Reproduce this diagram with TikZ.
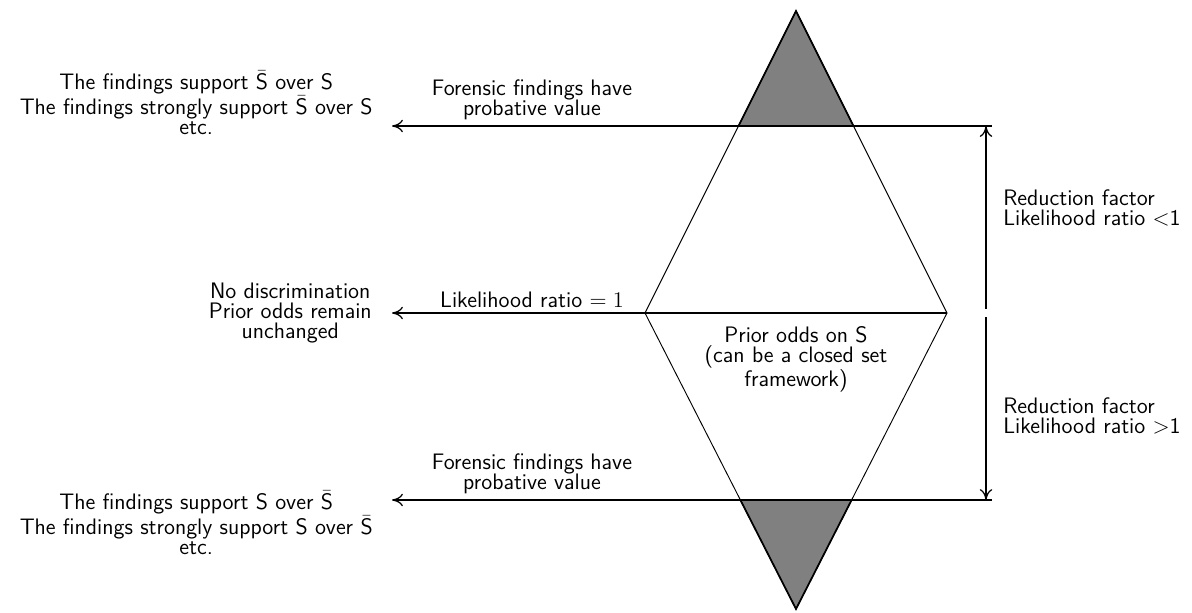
\documentclass[tikz,border=0pt]{standalone}
\usetikzlibrary{arrows.meta,calc}
\newcommand{\Sbar}{$\bar{\mathsf{S}}$}
\begin{document}
\begin{tikzpicture}[x=0.643pt,y=-0.643pt,
  txt/.style={inner sep=0pt,font={\fontsize{14.4}{13}\selectfont\sffamily}},
  thin line/.style={line width=0.6pt},
  arr/.style={line width=0.8pt,-{Computer Modern Rightarrow[length=7pt,width=8pt]}},
  grayfill/.style={fill=gray,draw=black,line width=1.1pt,line join=miter}]
\useasboundingbox (0,0) rectangle (1192,613);
% diamond
\coordinate (T) at (796,11);
\coordinate (L) at (645,313);
\coordinate (R) at (947,313);
\coordinate (B) at (796,609);
\filldraw[grayfill] (T) -- ($(T)!0.381!(L)$) -- ($(T)!0.381!(R)$) -- cycle;
\filldraw[grayfill] (B) -- ($(B)!0.368!(L)$) -- ($(B)!0.368!(R)$) -- cycle;
\draw[thin line] (T) -- (L) -- (B) -- (R) -- cycle;
% horizontal arrows
\coordinate (a1) at (392,126);
\coordinate (e1) at (992,126);
\coordinate (a2) at (392,313);
\coordinate (a3) at (392,500);
\coordinate (e3) at (992,500);
\draw[arr] (e1) -- (a1);
\draw[arr] (R) -- (a2);
\draw[arr] (e3) -- (a3);
% vertical arrows
\coordinate (v1) at (986,126);
\coordinate (v2) at (986,309);
\coordinate (v3) at (986,317);
\coordinate (v4) at (986,500);
\draw[arr] (v2) -- (v1);
\draw[arr] (v3) -- (v4);
% texts
\node[txt,align=center,anchor=east] (tl) at (373,103)
  {The findings support \Sbar{} over S\\The findings strongly support \Sbar{} over S\\etc.};
\node[txt,align=center,anchor=east] (ml) at (372,313)
  {No discrimination\\Prior odds remain\\unchanged};
\node[txt,align=center,anchor=east] (bl) at (373,523)
  {The findings support S over \Sbar\\The findings strongly support S over \Sbar\\etc.};
\node[txt,align=center,anchor=south] (f1) at (532,120)
  {Forensic findings have\\probative value};
\node[txt,anchor=base] (lr) at (532,307) {Likelihood ratio $=1$};
\node[txt,align=center,anchor=south] (f2) at (532,494)
  {Forensic findings have\\probative value};
\node[txt,align=center,anchor=north] (po) at (796,326)
  {Prior odds on S\\(can be a closed set\\framework)};
\node[txt,align=left,anchor=west] (r1) at (1003,208)
  {Reduction factor\\Likelihood ratio $<$1};
\node[txt,align=left,anchor=west] (r2) at (1003,416)
  {Reduction factor\\Likelihood ratio $>$1};
\end{tikzpicture}
\end{document}
